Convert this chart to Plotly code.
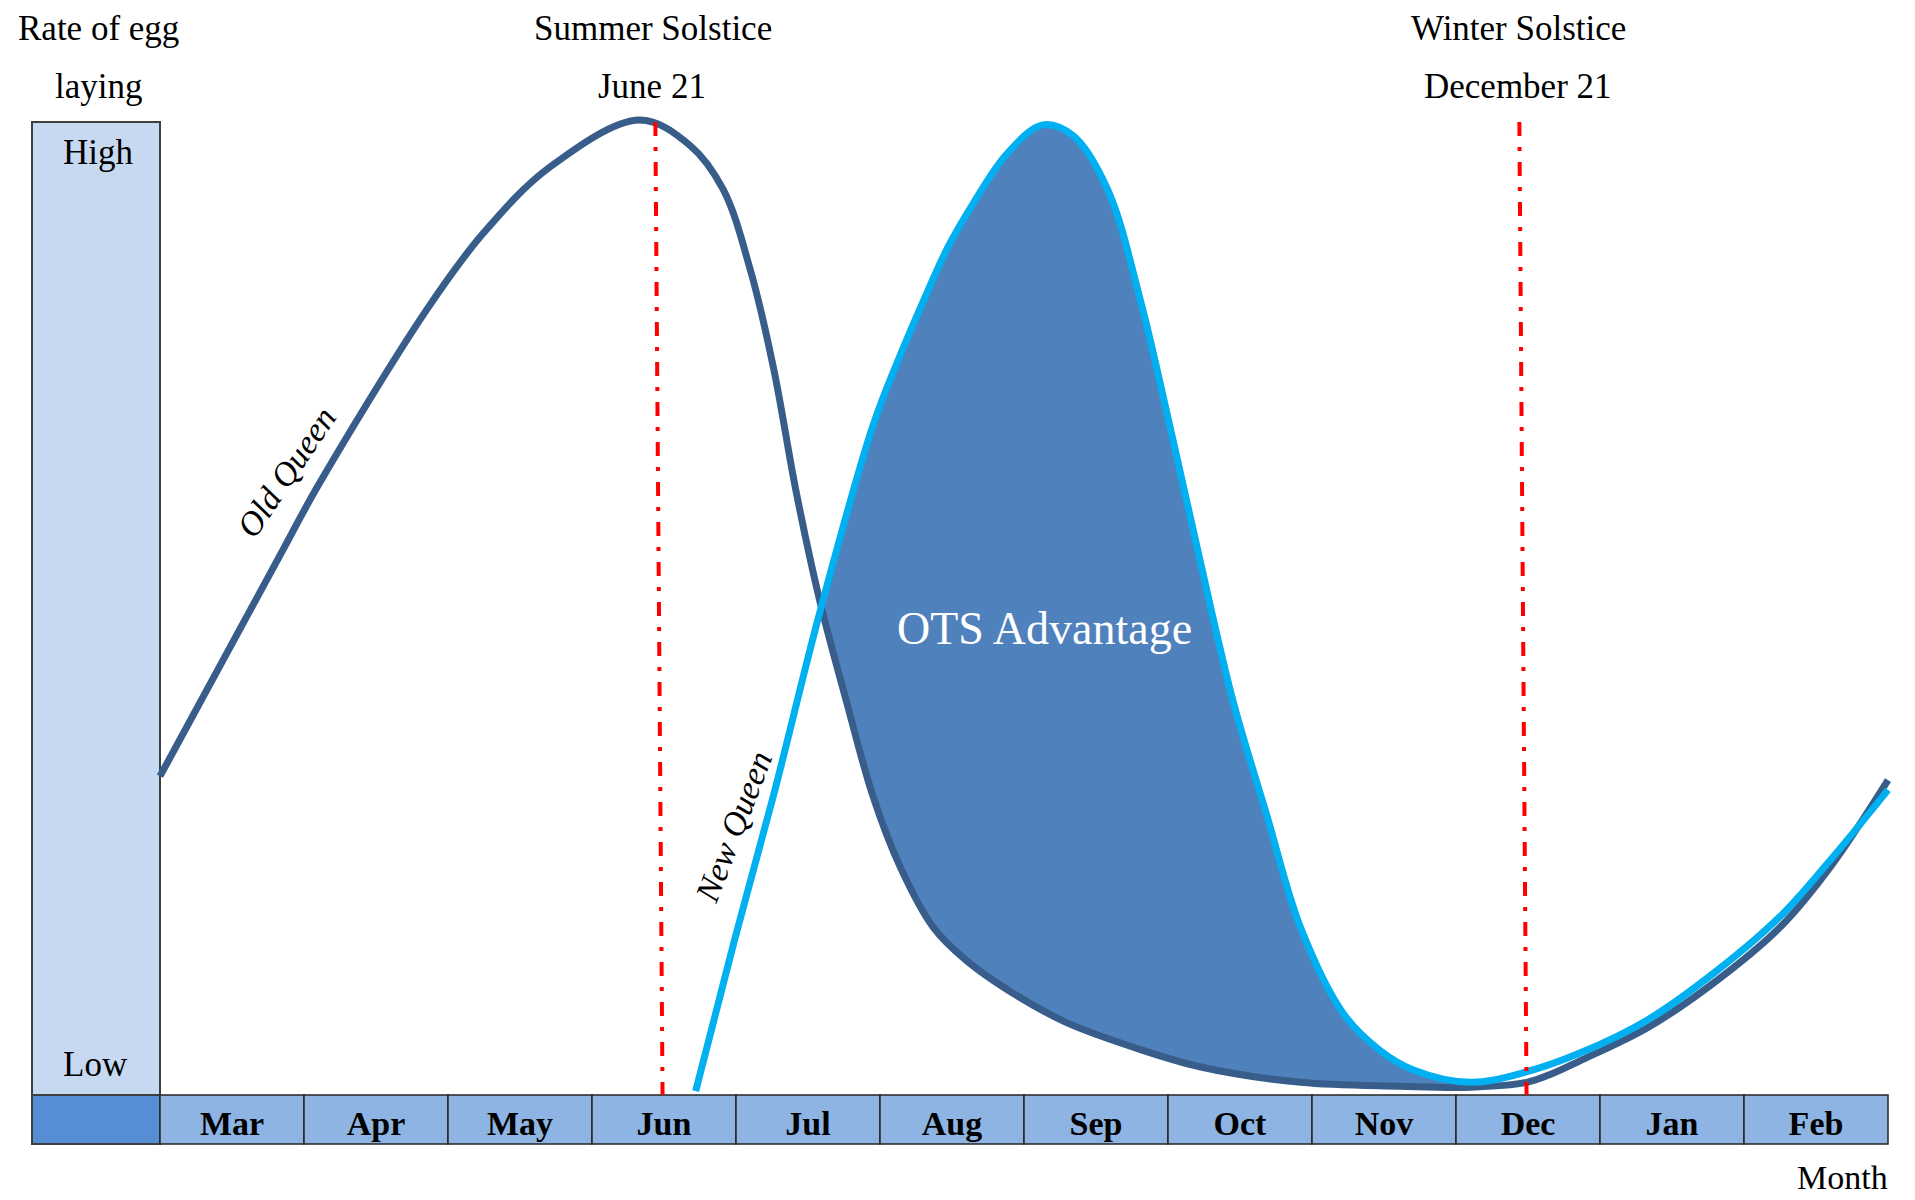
import plotly.graph_objects as go

# ---------------- data ----------------
months = ["Mar", "Apr", "May", "Jun", "Jul", "Aug", "Sep", "Oct", "Nov", "Dec", "Jan", "Feb"]

# x: months elapsed since 1 March, y: relative rate of egg laying (0 = low, 100 = high)
old_x = [0.00, 0.85, 1.09, 1.85, 2.24, 2.71, 3.33, 3.68, 3.91, 4.10, 4.26, 4.42, 4.58,
         4.77, 4.95, 5.14, 5.37, 5.60, 5.95, 6.30, 6.76, 7.22, 7.92, 8.61, 9.10, 9.49, 9.67,
         9.86, 10.33, 10.79, 11.25, 11.60, 12.00]
old_y = [32.7, 55.8, 62.3, 80.5, 88.3, 95.2, 100.0, 97.4, 92.9, 84.6, 74.6, 61.7, 50.8,
         40.2, 30.7, 23.4, 17.2, 13.8, 10.2, 7.4, 4.9, 2.9, 1.3, 0.9, 0.8, 1.3, 2.2,
         3.5, 6.9, 11.5, 17.2, 23.4, 32.3]

new_x = [3.72, 3.99, 4.26, 4.58, 4.95, 5.13, 5.30, 5.47, 5.65, 5.88, 6.13, 6.34, 6.58, 6.81,
         7.01, 7.22, 7.45, 7.69, 7.92, 8.22, 8.47, 8.70, 9.10, 9.47, 9.86, 10.33, 10.79, 11.25,
         11.60, 12.00]
new_y = [0.4, 15.9, 30.7, 49.4, 68.6, 75.5, 81.4, 86.9, 91.5, 96.5, 99.5, 98.4, 92.9, 81.4,
         68.8, 55.0, 40.5, 28.5, 17.2, 8.3, 4.6, 2.6, 1.3, 2.3, 4.3, 7.7, 12.5, 18.3,
         24.1, 31.3]

# advantage region (between the crossing and the winter minimum)
adv_start, adv_end = 4.58, 9.10

# solstice markers (top / bottom x, months since 1 March)
summer_x = [3.44, 3.49]
winter_x = [9.44, 9.49]
solstice_y = [99.8, 0.0]

# ---------------- layout helpers (pixel -> data) ----------------
W, H = 1915, 1200
X0_PX, MONTH_PX = 160, 144.0
Y0_PX, UNIT_PX = 1095, 9.75


def dx(px):
    return (px - X0_PX) / MONTH_PX


def dy(py):
    return (Y0_PX - py) / UNIT_PX


FONT = "Liberation Serif"
OLD_COLOR = "#385D8A"
NEW_COLOR = "#00B0F0"
FILL_COLOR = "#4F81BD"
RED = "#FF0000"

fig = go.Figure()

# month strip
strip_bottom = dy(1144)
fig.add_trace(go.Bar(
    x=[i + 0.5 for i in range(len(months))],
    y=[-strip_bottom] * len(months),
    base=strip_bottom,
    width=1.0,
    marker=dict(color="#8EB4E3", line=dict(color="#262626", width=1.5)),
    hoverinfo="skip", showlegend=False,
))
fig.add_trace(go.Scatter(
    x=[i + 0.5 for i in range(len(months))],
    y=[dy(1126)] * len(months),
    mode="text", text=[f"<b>{m}</b>" for m in months],
    textfont=dict(family=FONT, size=34, color="black"),
    hoverinfo="skip", showlegend=False,
))

# advantage fill
ox = [x for x in old_x if adv_start <= x <= adv_end]
oy = [y for x, y in zip(old_x, old_y) if adv_start <= x <= adv_end]
nx = [x for x in new_x if adv_start <= x <= adv_end]
ny = [y for x, y in zip(new_x, new_y) if adv_start <= x <= adv_end]
fig.add_trace(go.Scatter(x=ox, y=oy, mode="lines", line=dict(width=0, shape="spline"),
                         hoverinfo="skip", showlegend=False))
fig.add_trace(go.Scatter(x=nx, y=ny, mode="lines", line=dict(width=0, shape="spline"),
                         fill="tonexty", fillcolor=FILL_COLOR, hoverinfo="skip", showlegend=False))

# curves
fig.add_trace(go.Scatter(x=old_x, y=old_y, mode="lines", name="Old Queen",
                         line=dict(color=OLD_COLOR, width=7, shape="spline"), showlegend=False))
fig.add_trace(go.Scatter(x=new_x, y=new_y, mode="lines", name="New Queen",
                         line=dict(color=NEW_COLOR, width=7, shape="spline"), showlegend=False))

# solstice lines
for sx in (summer_x, winter_x):
    fig.add_trace(go.Scatter(x=sx, y=solstice_y, mode="lines",
                             line=dict(color=RED, width=4, dash="14px,11px,4px,11px"),
                             hoverinfo="skip", showlegend=False))

# left "rate" bar
fig.add_shape(type="rect", xref="x", yref="y", x0=dx(32), x1=0, y0=0, y1=dy(122),
              fillcolor="#C6D9F1", line=dict(color="#3F3F3F", width=2), layer="below")
fig.add_shape(type="rect", xref="x", yref="y", x0=dx(32), x1=0, y0=strip_bottom, y1=0,
              fillcolor="#558ED5", line=dict(color="#3F3F3F", width=2), layer="below")


def note(text, px, py, size=35, color="black", angle=0, italic=False, yanchor="middle"):
    fig.add_annotation(
        x=dx(px), y=dy(py), xref="x", yref="y", text=text, showarrow=False,
        textangle=angle, xanchor="center", yanchor=yanchor,
        font=dict(family=FONT, size=size, color=color, style="italic" if italic else "normal"),
    )


note("Rate of egg", 98, 28)
note("laying", 98, 86)
note("High", 98, 152)
note("Low", 95, 1064)
note("Summer Solstice", 653, 28)
note("June 21", 652, 86)
note("Winter Solstice", 1518, 28)
note("December 21", 1518, 86)
note("Month", 1842, 1198, size=34, yanchor="bottom")
note("OTS Advantage", 1044, 628, size=46, color="white")
note("Old Queen", 286, 472, size=34, angle=-56, italic=True)
note("New Queen", 733, 827, size=34, angle=-69, italic=True)

fig.update_layout(
    width=W, height=H,
    margin=dict(l=0, r=0, t=0, b=0),
    paper_bgcolor="white", plot_bgcolor="white",
    showlegend=False, barmode="overlay",
    xaxis=dict(range=[dx(0), dx(W)], visible=False, fixedrange=True),
    yaxis=dict(range=[dy(H), dy(0)], visible=False, fixedrange=True),
)

fig.write_html("out.html", config={"displayModeBar": False},
               post_script="document.body.style.margin='0';document.body.style.overflow='hidden';")
